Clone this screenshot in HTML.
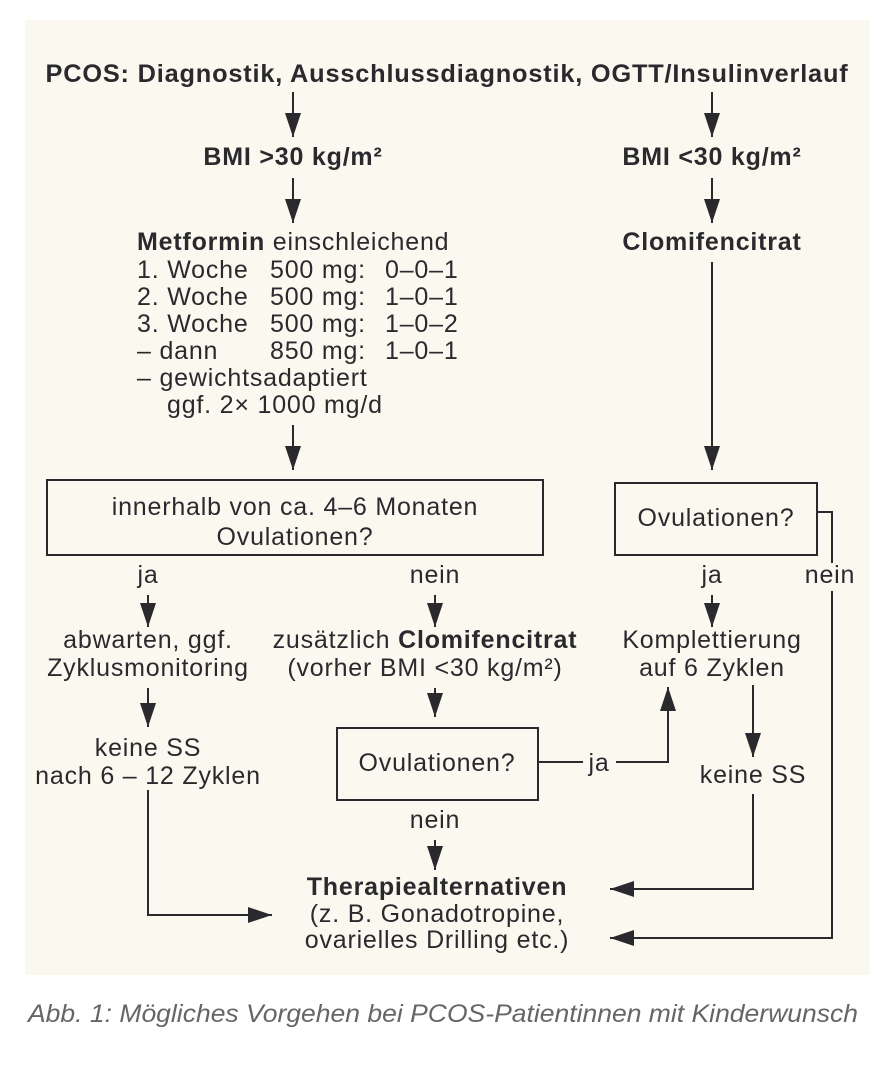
<!DOCTYPE html>
<html><head><meta charset="utf-8"><style>
html,body{margin:0;padding:0;background:#fff;}
svg{display:block}
text{font-family:"Liberation Sans","DejaVu Sans",sans-serif;font-size:25px;letter-spacing:0.8px;fill:#2a2a2e;}
.b{font-weight:bold}
</style></head><body>
<svg width="887" height="1080" viewBox="0 0 887 1080" xmlns="http://www.w3.org/2000/svg">
<defs>
<marker id="a" markerWidth="24" markerHeight="16" refX="24" refY="8" orient="auto" markerUnits="userSpaceOnUse">
<path d="M0,0 L24,8 L0,16 Z" fill="#2a2a2e"/></marker>
</defs>
<rect x="25" y="20" width="845" height="955" fill="#fbf9ef"/>
<g stroke="#2a2a2e" stroke-width="2" fill="none">
<line x1="293" y1="92" x2="293" y2="137" marker-end="url(#a)"/>
<line x1="712" y1="92" x2="712" y2="137" marker-end="url(#a)"/>
<line x1="293" y1="178" x2="293" y2="223" marker-end="url(#a)"/>
<line x1="712" y1="178" x2="712" y2="223" marker-end="url(#a)"/>
<line x1="293" y1="425" x2="293" y2="470" marker-end="url(#a)"/>
<line x1="712" y1="262" x2="712" y2="470" marker-end="url(#a)"/>
<rect x="47" y="480" width="496" height="75"/>
<rect x="615" y="483" width="202" height="72"/>
<polyline points="817,512 832,512 832,938 610,938" marker-end="url(#a)"/>
<line x1="148" y1="595" x2="148" y2="627" marker-end="url(#a)"/>
<line x1="435" y1="595" x2="435" y2="627" marker-end="url(#a)"/>
<line x1="712" y1="595" x2="712" y2="627" marker-end="url(#a)"/>
<line x1="148" y1="688" x2="148" y2="727" marker-end="url(#a)"/>
<polyline points="148,790 148,915 272,915" marker-end="url(#a)"/>
<line x1="435" y1="688" x2="435" y2="717" marker-end="url(#a)"/>
<rect x="337" y="728" width="201" height="72"/>
<line x1="538" y1="762" x2="583" y2="762"/>
<polyline points="616,762 668,762 668,687" marker-end="url(#a)"/>
<line x1="753" y1="685" x2="753" y2="757" marker-end="url(#a)"/>
<polyline points="753,794 753,889 610,889" marker-end="url(#a)"/>
<line x1="435" y1="840" x2="435" y2="870" marker-end="url(#a)"/>
</g>
<rect x="805" y="563" width="52" height="28" fill="#fbf9ef"/>
<text x="447" y="82" text-anchor="middle" class="b" font-size="23" textLength="803" lengthAdjust="spacingAndGlyphs">PCOS: Diagnostik, Ausschlussdiagnostik, OGTT/Insulinverlauf</text>
<text x="293" y="165" text-anchor="middle" class="b">BMI &gt;30 kg/m²</text>
<text x="712" y="165" text-anchor="middle" class="b">BMI &lt;30 kg/m²</text>
<text x="137" y="250"><tspan class="b">Metformin</tspan> einschleichend</text>
<text x="137" y="278">1. Woche</text><text x="270" y="278">500 mg:</text><text x="385" y="278">0–0–1</text>
<text x="137" y="305">2. Woche</text><text x="270" y="305">500 mg:</text><text x="385" y="305">1–0–1</text>
<text x="137" y="332">3. Woche</text><text x="270" y="332">500 mg:</text><text x="385" y="332">1–0–2</text>
<text x="137" y="359">–  dann</text><text x="270" y="359">850 mg:</text><text x="385" y="359">1–0–1</text>
<text x="137" y="386">–  gewichtsadaptiert</text>
<text x="167" y="413">ggf. 2× 1000 mg/d</text>
<text x="712" y="250" text-anchor="middle" class="b">Clomifencitrat</text>
<text x="295" y="515" text-anchor="middle">innerhalb von ca. 4–6 Monaten</text>
<text x="295" y="545" text-anchor="middle">Ovulationen?</text>
<text x="716" y="526" text-anchor="middle">Ovulationen?</text>
<text x="830" y="583" text-anchor="middle">nein</text>
<text x="148" y="583" text-anchor="middle">ja</text>
<text x="435" y="583" text-anchor="middle">nein</text>
<text x="712" y="583" text-anchor="middle">ja</text>
<text x="148" y="648" text-anchor="middle">abwarten, ggf.</text>
<text x="148" y="676" text-anchor="middle">Zyklusmonitoring</text>
<text x="425" y="648" text-anchor="middle">zusätzlich <tspan class="b">Clomifencitrat</tspan></text>
<text x="425" y="676" text-anchor="middle">(vorher BMI &lt;30 kg/m²)</text>
<text x="712" y="648" text-anchor="middle">Komplettierung</text>
<text x="712" y="676" text-anchor="middle">auf 6 Zyklen</text>
<text x="148" y="756" text-anchor="middle">keine SS</text>
<text x="148" y="784" text-anchor="middle">nach 6 – 12 Zyklen</text>
<text x="437" y="771" text-anchor="middle">Ovulationen?</text>
<text x="599" y="771" text-anchor="middle">ja</text>
<text x="753" y="783" text-anchor="middle">keine SS</text>
<text x="435" y="828" text-anchor="middle">nein</text>
<text x="437" y="895" text-anchor="middle" class="b">Therapiealternativen</text>
<text x="437" y="922" text-anchor="middle">(z. B. Gonadotropine,</text>
<text x="437" y="948" text-anchor="middle">ovarielles Drilling etc.)</text>
<text x="28" y="1022" font-style="italic" font-size="22" textLength="830" lengthAdjust="spacingAndGlyphs" style="fill:#666;letter-spacing:0">Abb. 1: Mögliches Vorgehen bei PCOS-Patientinnen mit Kinderwunsch</text>
</svg>
</body></html>
